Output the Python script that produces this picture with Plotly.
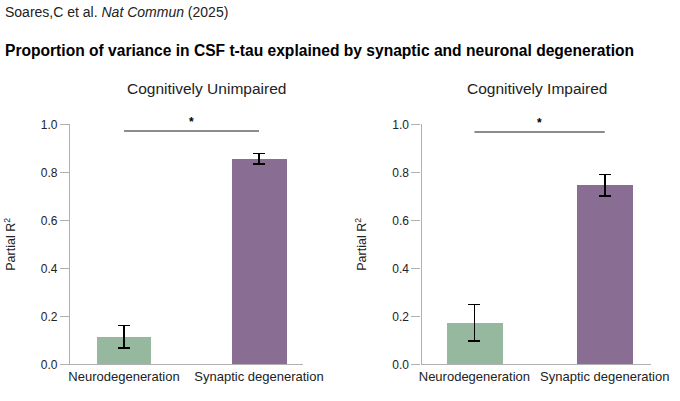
import plotly.graph_objects as go

# values
categories = ["Neurodegeneration", "Synaptic degeneration"]
cu_r2 = [0.113, 0.855]
cu_upper = [0.161, 0.878]
cu_lower = [0.067, 0.834]
ci_r2 = [0.172, 0.745]
ci_upper = [0.249, 0.790]
ci_lower = [0.097, 0.701]
sig_level = [0.972, 0.968]
sig_label = "*"
panel_titles = ["Cognitively Unimpaired", "Cognitively Impaired"]
y_ticks = [0.0, 0.2, 0.4, 0.6, 0.8, 1.0]

bar_colors = ["#96b89e", "#8a6d92"]
FONT = "Liberation Sans, Arial, Helvetica, sans-serif"

fig = go.Figure()

panels = [
    (cu_r2, cu_upper, cu_lower, "x", "y", 0.407),
    (ci_r2, ci_upper, ci_lower, "x2", "y2", 0.43),
]
for vals, hi, lo, xa, ya, w in panels:
    fig.add_trace(go.Bar(
        x=categories, y=vals, xaxis=xa, yaxis=ya,
        width=w,
        marker=dict(color=bar_colors, line_width=0),
        error_y=dict(type="data", symmetric=False,
                     array=[h - v for h, v in zip(hi, vals)],
                     arrayminus=[v - l for v, l in zip(vals, lo)],
                     color="black", thickness=1.5, width=6),
        showlegend=False,
    ))

ax_common = dict(showline=True, linecolor="#b0b0b0", linewidth=1.3,
                 showgrid=False, zeroline=False, ticks="", automargin=False,
                 tickfont=dict(size=13, color="#222"))
ay_common = dict(range=[0, 1.0], tickvals=y_ticks, ticktext=[f"{t:.1f}" for t in y_ticks],
                 showline=True, linecolor="#b0b0b0", linewidth=1.3, automargin=False,
                 ticks="outside", ticklen=9, tickcolor="#b0b0b0", tickwidth=1.3,
                 showgrid=False, zeroline=False,
                 tickfont=dict(size=12, color="#222"),
                 title=dict(text="Partial R<sup>2</sup>", font=dict(size=12.5, color="#222"), standoff=22))

fig.update_layout(
    template="none",
    width=680, height=401,
    margin=dict(l=0, r=0, t=0, b=0),
    paper_bgcolor="white", plot_bgcolor="white",
    font=dict(family=FONT, color="#222"),
    xaxis=dict(domain=[0.1029, 0.4456], range=[-0.4, 1.326], anchor="y", **ax_common),
    yaxis=dict(domain=[0.0915, 0.690], anchor="x", **ay_common),
    xaxis2=dict(domain=[0.620, 0.958], range=[-0.405, 1.358], anchor="y2", **ax_common),
    yaxis2=dict(domain=[0.0915, 0.690], anchor="x2", **ay_common),
    bargap=0,
)

for i, (xa, ya) in enumerate([("x", "y"), ("x2", "y2")]):
    fig.add_shape(type="line", xref=xa, yref=ya, x0=0, x1=1,
                  y0=sig_level[i], y1=sig_level[i],
                  line=dict(color="#8c8c8c", width=2))
    fig.add_annotation(xref=xa, yref=ya, x=0.5, y=sig_level[i], yshift=9,
                       text=f"<b>{sig_label}</b>", showarrow=False,
                       font=dict(size=12, color="black"))

fig.add_annotation(xref="paper", yref="paper", x=0.3042, y=(401 - 88) / 401,
                   text=panel_titles[0], showarrow=False, xanchor="center", yanchor="middle",
                   font=dict(size=15.5, color="#222"))
fig.add_annotation(xref="paper", yref="paper", x=0.789, y=(401 - 88) / 401,
                   text=panel_titles[1], showarrow=False, xanchor="center", yanchor="middle",
                   font=dict(size=15.5, color="#222"))

fig.add_annotation(xref="paper", yref="paper", x=3 / 680, y=(401 - 50) / 401,
                   xanchor="left", yanchor="middle", showarrow=False,
                   text="<b>Proportion of variance in CSF t-tau explained by synaptic and neuronal degeneration</b>",
                   font=dict(size=15.6, color="black"))
fig.add_annotation(xref="paper", yref="paper", x=3 / 680, y=(401 - 12) / 401,
                   xanchor="left", yanchor="middle", showarrow=False,
                   text="Soares,C et al. <i>Nat Commun</i> (2025)",
                   font=dict(size=14, color="#222"))

# drop the browser's default 8px body margin so the figure sits at the window origin
fig.write_html("out.html", config={"displayModeBar": False},
               post_script="document.body.style.margin='0';")
